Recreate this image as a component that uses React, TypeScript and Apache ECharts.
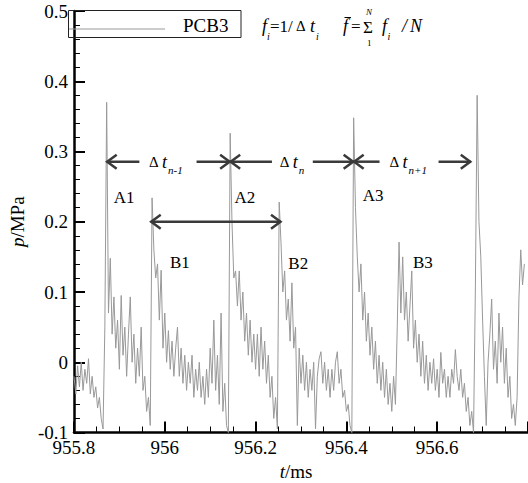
import React, { useEffect, useRef } from 'react';
import * as echarts from 'echarts';

// Sampling of the trace: start time (ms) and sample step (ms)
const T0 = 955.8;
const DT = 0.004;

// p / MPa
const pressure = [
  -0.02, -0.045, -0.005, -0.035, 0.0, -0.04, -0.01, -0.03, 0.005, -0.045,
  -0.02, -0.05, -0.035, -0.065, -0.05, -0.08, -0.095, 0.05, 0.37, 0.07,
  0.148, 0.04, 0.093, 0.02, 0.06, -0.01, 0.095, 0.01, 0.05, -0.02,
  0.04, 0.093, 0.0, 0.04, -0.03, 0.02, -0.02, 0.05, -0.04, -0.02,
  -0.07, -0.05, -0.09, 0.234, 0.16, 0.12, 0.14, 0.06, 0.131, 0.02,
  0.07, 0.0, 0.045, -0.01, 0.03, -0.02, 0.02, 0.05, -0.02, 0.02,
  -0.03, 0.01, -0.04, 0.0, -0.03, 0.01, -0.05, -0.01, -0.04, 0.0,
  -0.05, -0.02, -0.06, -0.01, -0.05, 0.02, -0.03, 0.06, -0.04, 0.01,
  -0.06, 0.07, -0.07, -0.03, -0.09, -0.1, 0.326, 0.2, 0.12, 0.13,
  0.08, 0.13, 0.06, 0.1, 0.03, 0.07, 0.01, 0.06, 0.0, 0.04,
  -0.01, 0.04, -0.02, 0.05, -0.01, 0.03, -0.03, 0.01, -0.05, -0.02,
  -0.08, -0.05, -0.095, 0.228, 0.17, 0.1, 0.13, 0.06, 0.09, 0.03,
  0.113, 0.02, 0.05, -0.09, 0.02, -0.03, 0.01, -0.04, 0.0, -0.05,
  -0.01, -0.04, 0.0, -0.095, -0.02, 0.005, 0.015, -0.03, 0.0, -0.04,
  -0.01, -0.05, -0.01, -0.04, 0.0, 0.015, -0.03, -0.01, -0.05, -0.04,
  -0.07, -0.06, -0.09, -0.1, 0.348, 0.22, 0.15, 0.1, 0.14, 0.06,
  0.1, 0.03, 0.07, 0.01, 0.05, -0.01, 0.03, -0.03, 0.01, -0.04,
  0.0, -0.05, -0.01, -0.06, -0.03, -0.07, -0.02, -0.06, 0.05, 0.171,
  0.07, 0.15, 0.06, 0.1, 0.03, 0.08, 0.13, 0.02, 0.06, 0.0,
  0.04, -0.02, 0.03, -0.03, 0.01, -0.04, 0.0, -0.03, 0.005, -0.04,
  -0.01, -0.05, 0.014, -0.03, -0.01, -0.05, -0.02, -0.05, -0.01, -0.03,
  0.018, -0.02, -0.04, -0.01, -0.05, -0.03, -0.07, -0.05, -0.09, -0.07,
  -0.1, 0.1, 0.38, 0.2, 0.15, 0.06, -0.02, -0.09, 0.0, 0.04,
  0.09, -0.01, 0.03, -0.03, 0.07, 0.0, 0.05, -0.03, 0.02, -0.05,
  -0.02, -0.08, -0.06, -0.09, -0.05, 0.09, 0.16, 0.11, 0.14,
];

// Interval arrows (data coordinates)
const arrowFrom = [955.872, 956.07, 956.144, 956.326, 956.416, 956.603, 955.969];
const arrowTo = [955.944, 956.144, 956.236, 956.416, 956.473, 956.674, 956.256];
const arrowLevel = [0.2855, 0.2855, 0.2855, 0.2855, 0.2855, 0.2855, 0.2];
const headAtFrom = [true, false, true, false, true, false, true];
const headAtTo = [false, true, false, true, false, true, true];

// Interval labels "Δ t_sub"
const intervalSubs = ['n-1', 'n', 'n+1'];
const intervalLabelT = [955.9654, 956.253, 956.4951];
const intervalLabelP = 0.2855;

// Peak labels
const peakLabels = ['A1', 'A2', 'A3', 'B1', 'B2', 'B3'];
const peakLabelT = [955.9103, 956.1762, 956.4591, 956.0331, 956.294, 956.5686];
const peakLabelP = [0.2345, 0.2345, 0.2374, 0.142, 0.1399, 0.142];

const seriesName = 'PCB3';
const SERIF = "'Liberation Serif', 'Times New Roman', 'DejaVu Serif', serif";
const INK = '#3a3a3a';

const fmt1 = (v: number) => String(Number(v.toFixed(1)));

export default function App() {
  const ref = useRef<HTMLDivElement>(null);

  useEffect(() => {
    document.body.style.margin = '0';
    const el = ref.current!;
    const chart = echarts.init(el, null, { renderer: 'svg' });
    const data = pressure.map((p, i) => [Number((T0 + i * DT).toFixed(3)), p]);

    const tickStyle = { color: '#000', width: 2 };
    const minorStyle = { color: '#000', width: 1 };

    chart.setOption({
      animation: false,
      backgroundColor: '#fff',
      textStyle: { fontFamily: SERIF },
      grid: { left: 68.5, right: -3, top: 11, bottom: 50.5 },
      xAxis: {
        type: 'value',
        min: 955.8,
        max: 956.8,
        interval: 0.2,
        axisLine: { onZero: false, lineStyle: { color: '#000', width: 2.5 } },
        axisTick: { inside: true, length: 11, lineStyle: tickStyle },
        minorTick: { show: true, splitNumber: 4, length: 6, lineStyle: minorStyle },
        splitLine: { show: false },
        axisLabel: {
          color: '#000',
          fontFamily: SERIF,
          fontSize: 19,
          lineHeight: 14,
          margin: 8,
          showMaxLabel: false,
          formatter: fmt1,
        },
      },
      yAxis: {
        type: 'value',
        min: -0.1,
        max: 0.5,
        interval: 0.1,
        axisLine: { show: true, onZero: false, lineStyle: { color: '#000', width: 2.5 } },
        axisTick: { show: true, inside: true, length: 11, lineStyle: tickStyle },
        minorTick: { show: true, splitNumber: 5, length: 6, lineStyle: minorStyle },
        splitLine: { show: false },
        axisLabel: { color: '#000', fontFamily: SERIF, fontSize: 19, lineHeight: 13, margin: 6, formatter: fmt1 },
        name: '{i|p}/MPa',
        nameLocation: 'middle',
        nameRotate: 90,
        nameGap: 44,
        nameTextStyle: {
          color: '#000',
          fontFamily: SERIF,
          fontSize: 19,
          rich: { i: { fontStyle: 'italic', fontFamily: SERIF, fontSize: 19, color: '#000' } },
        },
      },
      series: [
        {
          name: seriesName,
          type: 'line',
          data,
          showSymbol: false,
          symbol: 'none',
          silent: true,
          clip: true,
          lineStyle: { color: '#999999', width: 1 },
        },
      ],
    });

    const toPx = (t: number, p: number) =>
      chart.convertToPixel({ xAxisIndex: 0, yAxisIndex: 0 }, [t, p]) as number[];

    const g: any[] = [];
    const txt = (text: string, x: number, y: number, size: number, italic = false, align = 'left') => ({
      type: 'text',
      x,
      y,
      z: 100,
      style: {
        text,
        font: `${italic ? 'italic ' : ''}${size}px ${SERIF}`,
        fill: '#000',
        align,
        verticalAlign: 'middle',
      },
    });

    // legend box
    g.push({ type: 'rect', z: 100, shape: { x: 68.5, y: 10.5, width: 172.5, height: 27 }, style: { fill: 'none', stroke: '#222', lineWidth: 1 } });
    g.push({ type: 'line', z: 100, shape: { x1: 69, y1: 29, x2: 165, y2: 29 }, style: { stroke: '#999', lineWidth: 1 } });
    g.push(txt(seriesName, 183, 25, 19));

    // formula
    g.push(txt('f', 262, 26, 18, true));
    g.push(txt('i', 267, 36, 10, true));
    g.push(txt('=1/', 270, 26, 17));
    g.push(txt('Δ', 296, 26, 15));
    g.push(txt('t', 310, 26, 18, true));
    g.push(txt('i', 316, 36, 10, true));
    g.push(txt('f', 343, 26, 18, true));
    g.push({ type: 'line', z: 100, shape: { x1: 344.5, y1: 17.5, x2: 351, y2: 17.5 }, style: { stroke: '#000', lineWidth: 1 } });
    g.push(txt('=', 351, 26, 17));
    g.push(txt('Σ', 363, 27, 17));
    g.push(txt('N', 366, 12, 9, true));
    g.push(txt('1', 367, 43, 9));
    g.push(txt('f', 382, 26, 18, true));
    g.push(txt('i', 387.5, 36, 10, true));
    g.push(txt('/', 402, 26, 18, true));
    g.push(txt('N', 410, 26, 18, true));

    // arrows
    for (let k = 0; k < arrowFrom.length; k++) {
      const [x1, y1] = toPx(arrowFrom[k], arrowLevel[k]);
      const [x2] = toPx(arrowTo[k], arrowLevel[k]);
      const st = { stroke: INK, lineWidth: 2.5, fill: null, lineJoin: 'miter' };
      g.push({ type: 'line', z: 100, shape: { x1, y1, x2, y2: y1 }, style: { stroke: INK, lineWidth: 2.5 } });
      if (headAtFrom[k]) {
        g.push({ type: 'polyline', z: 100, shape: { points: [[x1 + 10, y1 - 7], [x1 + 0.5, y1], [x1 + 10, y1 + 7]] }, style: st });
      }
      if (headAtTo[k]) {
        g.push({ type: 'polyline', z: 100, shape: { points: [[x2 - 10, y1 - 7], [x2 - 0.5, y1], [x2 - 10, y1 + 7]] }, style: st });
      }
    }

    // interval labels
    for (let k = 0; k < intervalSubs.length; k++) {
      const [x, y] = toPx(intervalLabelT[k], intervalLabelP);
      g.push(txt('Δ', x, y, 15));
      g.push(txt('t', x + 13, y, 18, true));
      g.push(txt(intervalSubs[k], x + 19, y + 8, 11, true));
    }

    // peak labels
    for (let k = 0; k < peakLabels.length; k++) {
      const [x, y] = toPx(peakLabelT[k], peakLabelP[k]);
      g.push(txt(peakLabels[k], x, y, 17, false, 'center'));
    }

    // x axis title
    g.push({
      type: 'text',
      x: 296,
      y: 471,
      z: 100,
      style: {
        text: '{i|t}/ms',
        font: `19px ${SERIF}`,
        fill: '#000',
        align: 'center',
        verticalAlign: 'middle',
        rich: { i: { fontStyle: 'italic', fontFamily: SERIF, fontSize: 19, fill: '#000' } },
      },
    });

    chart.setOption({ graphic: g });

    return () => chart.dispose();
  }, []);

  return <div ref={ref} style={{ position: 'absolute', left: 0, top: 0, width: 528, height: 483 }} />;
}
